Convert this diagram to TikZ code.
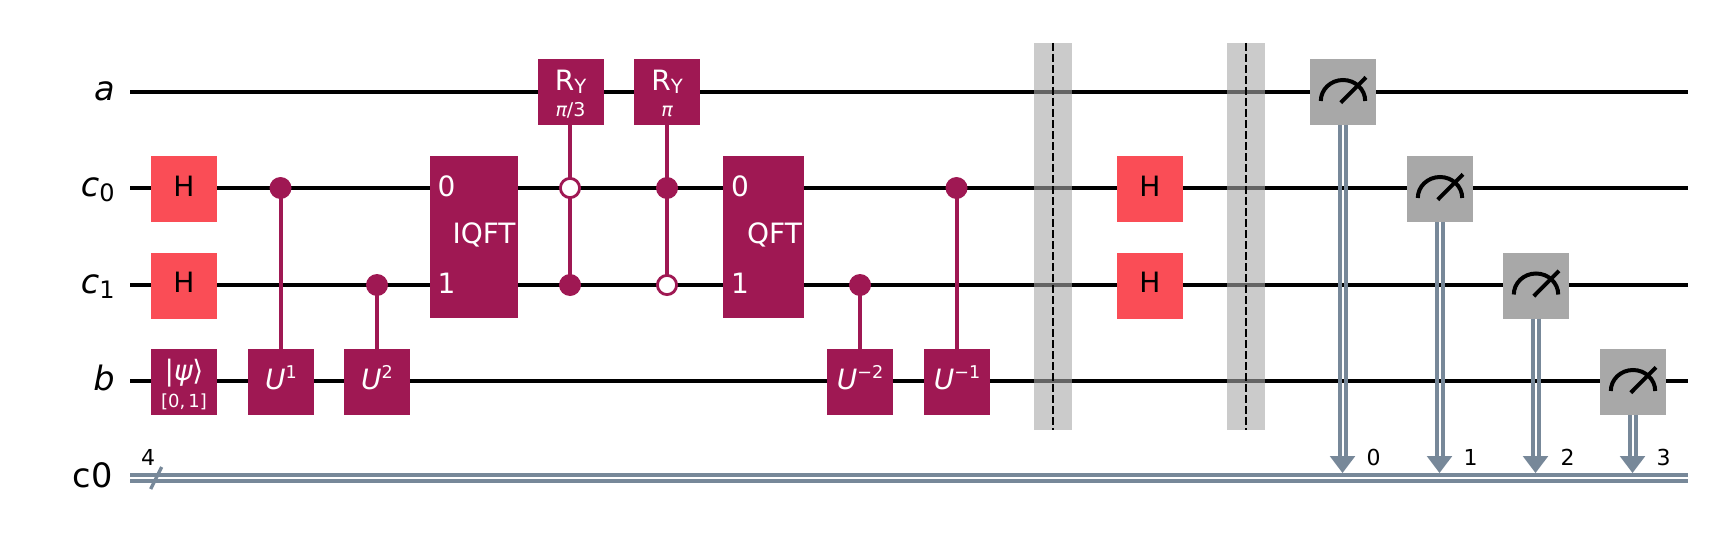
\documentclass[tikz,border=0pt]{standalone}
\usepackage{fontspec}
\setmainfont{DejaVu Sans}
\usetikzlibrary{backgrounds}
\pgfdeclarelayer{wires}\pgfdeclarelayer{conn}
\pgfsetlayers{wires,conn,main}
\definecolor{qpurple}{HTML}{9F1853}
\definecolor{qred}{HTML}{FA4D56}
\definecolor{qgrey}{HTML}{A8A8A8}
\definecolor{qcls}{HTML}{778899}
\newcommand{\fs}[1]{\fontsize{#1}{#1}\selectfont}
\newcommand{\supr}[1]{\raisebox{5.3pt}{\fs{8.8}#1}}
\newcommand{\subr}[1]{\raisebox{-1.2pt}{\fs{9.8}#1}}
\newcommand{\wsub}[1]{\raisebox{-2.85pt}{\fs{12}\upshape #1}}
% one line of a gate's text: baseline #1 above the gate's centre, centred across it
\newcommand{\gline}[2]{\raisebox{#1}[0pt][0pt]{\makebox[0pt]{#2}}}
\tikzset{
  x=0.5pt,y=-0.5pt,
  qbox/.style={rectangle,inner sep=0pt,outer sep=0pt,minimum width=33pt,minimum height=33pt,text=white,font=\fs{14}},
  qgate/.style={qbox,fill=qpurple},
  hgate/.style={qbox,fill=qred,text=black},
  mgate/.style={qbox,fill=qgrey},
  tall/.style={rectangle,inner sep=0pt,outer sep=0pt,minimum height=81pt,fill=qpurple},
  wlabel/.style={inner sep=0pt,font=\fs{16.8}\itshape,anchor=base east},
  inlabel/.style={inner sep=0pt,text=white,font=\fs{14}},
  bitlabel/.style={inner sep=0pt,font=\fs{11}},
  qwire/.style={draw=black,line width=2pt},
  clsline/.style={draw=qcls,line width=2pt},
  ctl/.style={draw=qpurple,line width=2pt},
  closedc/.style={circle,inner sep=0pt,outer sep=0pt,minimum size=11pt,fill=qpurple},
  openc/.style={circle,inner sep=0pt,outer sep=0pt,minimum size=9.6pt,fill=white,draw=qpurple,line width=1.4pt},
  barrierbox/.style={rectangle,inner sep=0pt,outer sep=0pt,minimum width=19pt,minimum height=193.5pt,fill=qgrey,fill opacity=0.6},
  bline/.style={draw=black,line width=1pt,dash pattern=on 4pt off 1.5pt},
  gauge/.style={draw=black,line width=2pt},
}
\newcommand{\meter}[1]{%
  \draw[gauge] ([xshift=-11.1pt,yshift=-4.5pt]#1.center) arc[start angle=180,end angle=0,x radius=11.1pt,y radius=10.5pt];
  \draw[gauge] ([xshift=-1.15pt,yshift=-5.35pt]#1.center) -- ([xshift=11.5pt,yshift=7.35pt]#1.center);
}
\newcommand{\measarrow}[2]{%
  \draw[clsline] ([xshift=-1.45pt]#1.south) -- ([xshift=-1.45pt,yshift=8.4pt]#1.south |- #2);
  \draw[clsline] ([xshift=1.45pt]#1.south) -- ([xshift=1.45pt,yshift=8.4pt]#1.south |- #2);
  \fill[qcls] (#2) -- ++(-6.4pt,8.5pt) -- ++(12.8pt,0pt) -- cycle;
}
\begin{document}
\begin{tikzpicture}
\useasboundingbox (0,0) rectangle (1711,551);
% ends of wires
\coordinate (wa0) at (130,92);   \coordinate (wa1) at (1688,92);
\coordinate (wc0) at (130,188);  \coordinate (wc1) at (1688,188);
\coordinate (wd0) at (130,285);  \coordinate (wd1) at (1688,285);
\coordinate (wb0) at (130,381);  \coordinate (wb1) at (1688,381);
\coordinate (cu0) at (130,475);  \coordinate (cu1) at (1688,475);
\coordinate (cl0) at (130,481);  \coordinate (cl1) at (1688,481);
\begin{pgfonlayer}{wires}
  \draw[qwire] (wa0) -- (wa1);
  \draw[qwire] (wc0) -- (wc1);
  \draw[qwire] (wd0) -- (wd1);
  \draw[qwire] (wb0) -- (wb1);
  \draw[clsline] (cu0) -- (cu1);
  \draw[clsline] (cl0) -- (cl1);
\end{pgfonlayer}
% wire labels
\node[wlabel] (la) at (115,101) {a};
\node[wlabel] (lc) at (115,196) {c\wsub{0}};
\node[wlabel] (ld) at (115,293) {c\wsub{1}};
\node[wlabel] (lb) at (115,390) {b};
\node[wlabel,font=\fs{16.8}] (lz) at (113,487) {c0};
% register slash
\coordinate (sl0) at (150.7,489); \coordinate (sl1) at (161.7,467);
\draw[draw=qcls,line width=1.7pt] (sl0) -- (sl1);
\node[bitlabel] (n4) at (148,457) {4};
% gates
\node[hgate] (h1) at (184,189) {\gline{-3.5pt}{H}};
\node[hgate] (h2) at (184,285.5) {\gline{-3.5pt}{H}};
\node[qgate] (psi) at (184,382) {\gline{1pt}{|{\itshape ψ}⟩}\gline{-12.85pt}{\fs{9}[0,\,1]}};
\node[qgate] (u1) at (281,382) {\gline{-3.5pt}{{\itshape U}\supr{1}}};
\node[closedc] (u1c) at (280.5,188) {};
\node[qgate] (u2) at (377,382) {\gline{-3.5pt}{{\itshape U}\supr{2}}};
\node[closedc] (u2c) at (377,285) {};
\node[tall,minimum width=44pt] (iqft) at (474,237) {};
\node[inlabel] (iq0) at (446.5,186.7) {0};
\node[inlabel] (iq1) at (446.5,283.5) {1};
\node[inlabel] (iqt) at (484,234.5) {IQFT};
\node[qgate] (ry1) at (570.5,92) {\gline{0.65pt}{R\subr{Y}}\gline{-12.35pt}{\fs{9.5}{\itshape π}/3}};
\node[openc] (c1a) at (570,188) {};
\node[closedc] (c1b) at (570,285) {};
\node[qgate] (ry2) at (667,92) {\gline{0.65pt}{R\subr{Y}}\gline{-12.35pt}{\fs{9.5}\itshape π}};
\node[closedc] (c2a) at (667,188) {};
\node[openc] (c2b) at (667,285) {};
\node[tall,minimum width=40.5pt] (qft) at (763.5,237) {};
\node[inlabel] (q0) at (740,186.7) {0};
\node[inlabel] (q1) at (740,283.5) {1};
\node[inlabel] (qt) at (774.5,234.5) {QFT};
\node[qgate] (um2) at (860,382) {\gline{-3.5pt}{{\itshape U}\supr{−2}}};
\node[closedc] (um2c) at (860,285) {};
\node[qgate] (um1) at (957,382) {\gline{-3.5pt}{{\itshape U}\supr{−1}}};
\node[closedc] (um1c) at (956.5,188) {};
\node[hgate] (h3) at (1150,189) {\gline{-3.5pt}{H}};
\node[hgate] (h4) at (1150,285.5) {\gline{-3.5pt}{H}};
% barriers
\node[barrierbox] (b1) at (1053,236.5) {};
\node[barrierbox] (b2) at (1246,236.5) {};
\draw[bline] (b1.north) -- (b1.south);
\draw[bline] (b2.north) -- (b2.south);
% controls
\begin{pgfonlayer}{conn}
  \draw[ctl] (u1c.center) -- (u1c.center |- u1.north);
  \draw[ctl] (u2c.center) -- (u2c.center |- u2.north);
  \draw[ctl] (c1b.center) -- (c1b.center |- ry1.south);
  \draw[ctl] (c2b.center) -- (c2b.center |- ry2.south);
  \draw[ctl] (um2c.center) -- (um2c.center |- um2.north);
  \draw[ctl] (um1c.center) -- (um1c.center |- um1.north);
\end{pgfonlayer}
% measurements
\node[mgate] (m0) at (1343,92) {};
\node[mgate] (m1) at (1440,189) {};
\node[mgate] (m2) at (1536,285.5) {};
\node[mgate] (m3) at (1633,382) {};
\coordinate (t0) at (1342.5,473);
\coordinate (t1) at (1439.5,473);
\coordinate (t2) at (1535.5,473);
\coordinate (t3) at (1632.5,473);
\measarrow{m0}{t0}
\measarrow{m1}{t1}
\measarrow{m2}{t2}
\measarrow{m3}{t3}
\meter{m0}\meter{m1}\meter{m2}\meter{m3}
\node[bitlabel] (n0) at (1373.5,457) {0};
\node[bitlabel] (n1) at (1470.5,457) {1};
\node[bitlabel] (n2) at (1567.5,457) {2};
\node[bitlabel] (n3) at (1663.5,457) {3};
\end{tikzpicture}
\end{document}
